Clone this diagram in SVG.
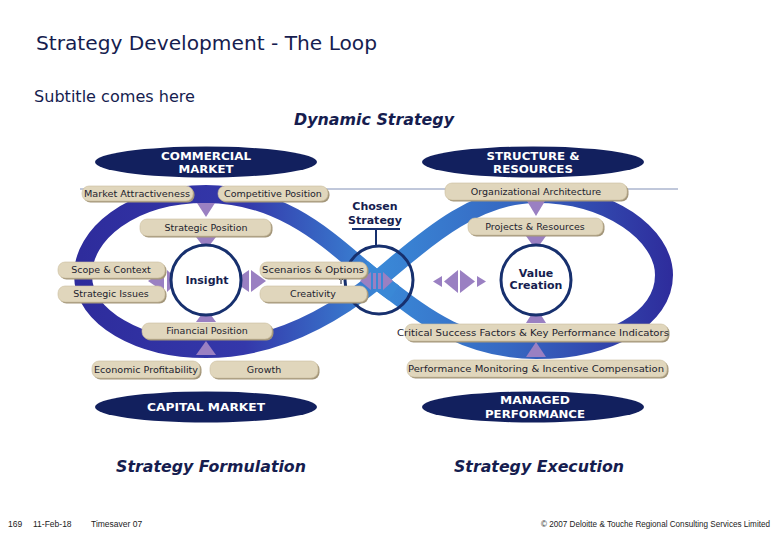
<svg xmlns="http://www.w3.org/2000/svg" width="780" height="540" viewBox="0 0 780 540">
<defs>
<linearGradient id="gl" gradientUnits="userSpaceOnUse" x1="80" y1="0" x2="380" y2="0">
<stop offset="0" stop-color="#2e2c9c"/><stop offset="0.55" stop-color="#3438aa"/><stop offset="1" stop-color="#3a88d6"/>
</linearGradient>
<linearGradient id="gr" gradientUnits="userSpaceOnUse" x1="374" y1="0" x2="672" y2="0">
<stop offset="0" stop-color="#3a8ad8"/><stop offset="0.45" stop-color="#3668c2"/><stop offset="1" stop-color="#2e2c9c"/>
</linearGradient>
<style>
.t{font-family:"DejaVu Sans",Verdana,sans-serif;fill:#161d4f}
.pt{font-family:"DejaVu Sans",Verdana,sans-serif;font-size:9.5px;fill:#1d1d2e;text-anchor:middle}
.sh{fill:#a3967a}
.pl{fill:#e0d6bc;stroke:#cbbd9d;stroke-width:0.6}
.el{fill:#12205e}
.et{font-family:"DejaVu Sans",Verdana,sans-serif;font-size:11px;font-weight:bold;fill:#ffffff;text-anchor:middle}
.ar{fill:#9a80c2}
.ci{fill:none;stroke:#17306e;stroke-width:3}
.bt{font-family:"DejaVu Sans",Verdana,sans-serif;font-size:11px;font-weight:bold;fill:#161d4f;text-anchor:middle}
.ft{font-family:"Liberation Sans",Arial,sans-serif;font-size:8.5px;fill:#222}
.bi{font-family:"DejaVu Sans",Verdana,sans-serif;font-weight:bold;font-style:italic;fill:#161d4f;text-anchor:middle}
</style>
</defs>
<rect width="780" height="540" fill="#ffffff"/>

<text class="t" x="36" y="50" font-size="20" textLength="341" lengthAdjust="spacingAndGlyphs">Strategy Development - The Loop</text>
<text class="t" x="34" y="102" font-size="15" textLength="161" lengthAdjust="spacingAndGlyphs">Subtitle comes here</text>
<text class="bi" x="374" y="125" font-size="15" textLength="160" lengthAdjust="spacingAndGlyphs">Dynamic Strategy</text>

<line x1="80" y1="189" x2="678" y2="189" stroke="#8190b6" stroke-width="1"/>

<g id="connectors">
<path d="M377,280 C340,252 290,194 206,194 C130,194 83,235 83,275 C83,318 140,349 206,349 C280,349 340,310 377,280" fill="none" stroke="url(#gl)" stroke-width="18"/>
<path d="M377,280 C414,250 470,194 536,194 C610,194 664,235 664,275 C664,318 610,350 536,350 C460,350 414,308 377,280" fill="none" stroke="url(#gr)" stroke-width="18"/>
<path d="M362,268 C368,273 372,276 377,280 C383,285 388,289 394,293" fill="none" stroke="#3a88d6" stroke-width="18"/>
<polygon class="ar" points="197,203 215,203 206,217"/>
<polygon class="ar" points="196,237 216,237 206,250"/>
<polygon class="ar" points="196,322 216,322 206,308"/>
<polygon class="ar" points="196,355 216,355 206,341"/>
<polygon class="ar" points="527,201 545,201 536,216"/>
<polygon class="ar" points="526,236 546,236 536,250"/>
<polygon class="ar" points="526,323 546,323 536,307"/>
<polygon class="ar" points="526,357 546,357 536,342"/>
<polygon class="ar" points="164,270 164,292 148,281"/>
<polygon class="ar" points="167,270 167,292 179,281"/>
<polygon class="ar" points="249,270 249,292 233,281"/>
<polygon class="ar" points="251,270 251,292 266,281"/>
<polygon class="ar" points="371,272 371,290 360,281"/>
<rect class="ar" x="373" y="273" width="3" height="16"/>
<rect class="ar" x="378" y="273" width="3" height="16"/>
<polygon class="ar" points="383,272 383,290 393,281"/>
<polygon class="ar" points="442,276 442,287 433,281.5"/>
<polygon class="ar" points="458,270 458,293 444,281.5"/>
<polygon class="ar" points="460,270 460,293 475,281.5"/>
<polygon class="ar" points="477,276 477,287 486,281.5"/>
<path d="M341,278 L341,284 M339,280 L341,278 L343,280" stroke="#1d1d2e" stroke-width="1" fill="none"/>
</g>

<g id="chosen-strategy">
<circle class="ci" cx="379" cy="280" r="34"/>
<line x1="352" y1="229" x2="400" y2="229" stroke="#17306e" stroke-width="2"/>
<line x1="376" y1="229" x2="376" y2="246" stroke="#17306e" stroke-width="2"/>
<text class="bt" x="375" y="210">Chosen</text>
<text class="bt" x="375" y="224">Strategy</text>
</g>

<g id="insight">
<circle cx="206" cy="280" r="35" fill="#ffffff" stroke="#17306e" stroke-width="3"/>
<text class="bt" x="207" y="284">Insight</text>
</g>

<g id="value-creation">
<circle cx="536" cy="280" r="35" fill="#ffffff" stroke="#17306e" stroke-width="3"/>
<text class="bt" x="536" y="277" font-size="10.5">Value</text>
<text class="bt" x="536" y="289" font-size="10.5">Creation</text>
</g>

<g id="commercial-market">
<ellipse class="el" cx="206" cy="162" rx="111" ry="15.5"/>
<text class="et" x="206" y="160" textLength="90" lengthAdjust="spacingAndGlyphs">COMMERCIAL</text>
<text class="et" x="206" y="173" textLength="55" lengthAdjust="spacingAndGlyphs">MARKET</text>
</g>
<g id="structure-resources">
<ellipse class="el" cx="533" cy="162" rx="111" ry="15.5"/>
<text class="et" x="533" y="160" textLength="93" lengthAdjust="spacingAndGlyphs">STRUCTURE &amp;</text>
<text class="et" x="533" y="173" textLength="80" lengthAdjust="spacingAndGlyphs">RESOURCES</text>
</g>
<g id="capital-market">
<ellipse class="el" cx="206" cy="407" rx="111" ry="15.5"/>
<text class="et" x="206" y="411" textLength="118" lengthAdjust="spacingAndGlyphs">CAPITAL MARKET</text>
</g>
<g id="managed-performance">
<ellipse class="el" cx="533" cy="407" rx="111" ry="15.5"/>
<text class="et" x="535" y="404" textLength="70" lengthAdjust="spacingAndGlyphs">MANAGED</text>
<text class="et" x="535" y="418" textLength="100" lengthAdjust="spacingAndGlyphs">PERFORMANCE</text>
</g>

<g id="market-attractiveness"><rect class="sh" x="83.5" y="187.5" width="111" height="15" rx="7"/><rect class="pl" x="82" y="186" width="111" height="15" rx="7"/><text class="pt" x="137" y="197" textLength="106" lengthAdjust="spacingAndGlyphs">Market Attractiveness</text></g>
<g id="competitive-position"><rect class="sh" x="219.5" y="187.5" width="110" height="15" rx="7"/><rect class="pl" x="218" y="186" width="110" height="15" rx="7"/><text class="pt" x="273" y="197">Competitive Position</text></g>
<g id="strategic-position"><rect class="sh" x="141.5" y="220.5" width="131" height="17" rx="7"/><rect class="pl" x="140" y="219" width="131" height="17" rx="7"/><text class="pt" x="206" y="231">Strategic Position</text></g>
<g id="organizational-architecture"><rect class="sh" x="446.5" y="184.5" width="182" height="17" rx="7"/><rect class="pl" x="445" y="183" width="182" height="17" rx="7"/><text class="pt" x="536" y="195">Organizational Architecture</text></g>
<g id="projects-resources"><rect class="sh" x="469.5" y="219.5" width="135" height="17" rx="7"/><rect class="pl" x="468" y="218" width="135" height="17" rx="7"/><text class="pt" x="535" y="230">Projects &amp; Resources</text></g>
<g id="scope-context"><rect class="sh" x="59.5" y="263.5" width="107" height="16" rx="7"/><rect class="pl" x="58" y="262" width="107" height="16" rx="7"/><text class="pt" x="111" y="273">Scope &amp; Context</text></g>
<g id="strategic-issues"><rect class="sh" x="59.5" y="287.5" width="107" height="16" rx="7"/><rect class="pl" x="58" y="286" width="107" height="16" rx="7"/><text class="pt" x="111" y="297">Strategic Issues</text></g>
<g id="scenarios-options"><rect class="sh" x="261.5" y="263.5" width="107" height="16" rx="7"/><rect class="pl" x="260" y="262" width="107" height="16" rx="7"/><text class="pt" x="313" y="273" textLength="102" lengthAdjust="spacingAndGlyphs">Scenarios &amp; Options</text></g>
<g id="creativity"><rect class="sh" x="261.5" y="287.5" width="107" height="16" rx="7"/><rect class="pl" x="260" y="286" width="107" height="16" rx="7"/><text class="pt" x="313" y="297">Creativity</text></g>
<g id="financial-position"><rect class="sh" x="143.5" y="324.5" width="130" height="16" rx="7"/><rect class="pl" x="142" y="323" width="130" height="16" rx="7"/><text class="pt" x="207" y="334">Financial Position</text></g>
<g id="economic-profitability"><rect class="sh" x="93.5" y="362.5" width="108" height="17" rx="7"/><rect class="pl" x="92" y="361" width="108" height="17" rx="7"/><text class="pt" x="146" y="373" textLength="104" lengthAdjust="spacingAndGlyphs">Economic Profitability</text></g>
<g id="growth"><rect class="sh" x="211.5" y="362.5" width="108" height="17" rx="7"/><rect class="pl" x="210" y="361" width="108" height="17" rx="7"/><text class="pt" x="264" y="373">Growth</text></g>
<g id="csf-kpi"><rect class="sh" x="406.5" y="325.5" width="263" height="17" rx="7"/><rect class="pl" x="405" y="324" width="263" height="17" rx="7"/><text class="pt" x="533" y="336" textLength="272" lengthAdjust="spacingAndGlyphs">Critical Success Factors &amp; Key Performance Indicators</text></g>
<g id="performance-monitoring"><rect class="sh" x="408.5" y="361.5" width="260" height="17" rx="7"/><rect class="pl" x="407" y="360" width="260" height="17" rx="7"/><text class="pt" x="536" y="372" textLength="256" lengthAdjust="spacingAndGlyphs">Performance Monitoring &amp; Incentive Compensation</text></g>

<text class="bi" x="211" y="472" font-size="15" textLength="190" lengthAdjust="spacingAndGlyphs">Strategy Formulation</text>
<text class="bi" x="539" y="472" font-size="15" textLength="170" lengthAdjust="spacingAndGlyphs">Strategy Execution</text>

<text class="ft" x="8" y="527">169</text>
<text class="ft" x="33" y="527">11-Feb-18</text>
<text class="ft" x="91" y="527">Timesaver 07</text>
<text class="ft" x="770" y="527" text-anchor="end" textLength="229" lengthAdjust="spacingAndGlyphs">© 2007 Deloitte &amp; Touche Regional Consulting Services Limited</text>
</svg>
